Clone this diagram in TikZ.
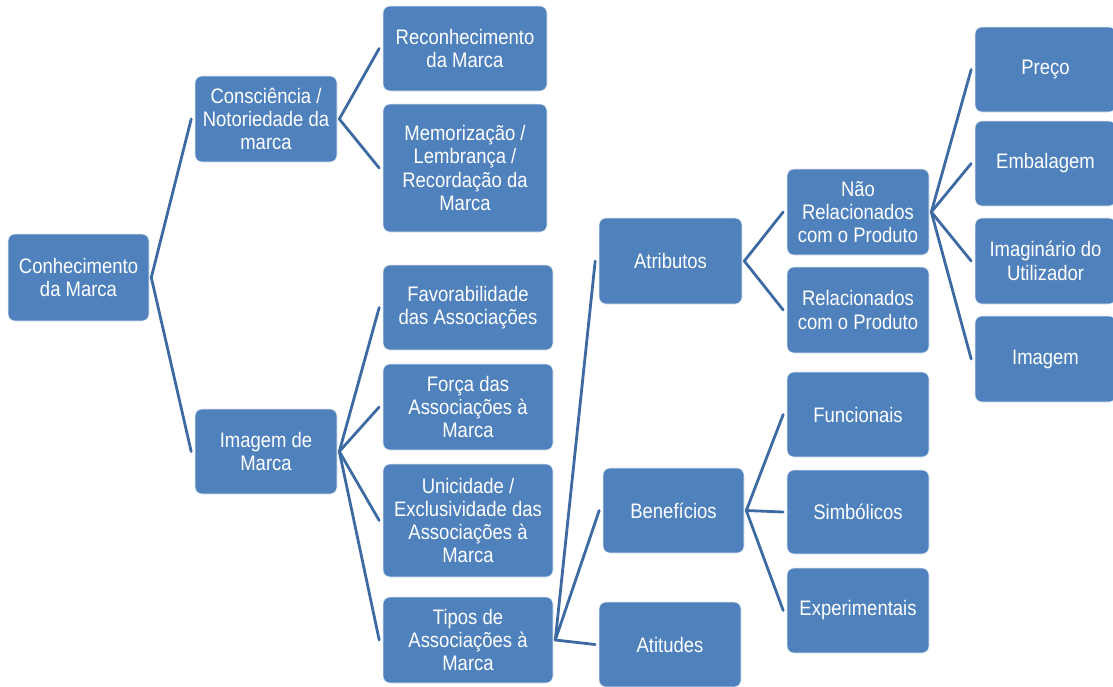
\documentclass[tikz,border=0pt]{standalone}
\usepackage{fontspec}
\setmainfont{Liberation Sans}[FakeStretch=0.88]
\definecolor{boxblue}{RGB}{79,129,189}
\definecolor{linkblue}{RGB}{62,106,163}
\begin{document}
\begin{tikzpicture}[x=1pt,y=-1pt,
  box/.style={rectangle, rounded corners=7pt, fill=boxblue, draw=white!85!boxblue, line width=0.6pt,
    text=white, align=center, inner sep=0pt, font=\fontsize{21}{23.3}\selectfont},
  link/.style={draw=linkblue, line width=2.8pt, line cap=round}]
\useasboundingbox (0,0) rectangle (1113,686);
% level 0
\node[box, minimum width=141pt, minimum height=87pt] (conh) at (78.5,277.5) {Conhecimento\\da Marca};
% level 1
\node[box, minimum width=142pt, minimum height=86pt] (consc) at (266,119) {Consciência /\\Notoriedade da\\marca};
\node[box, minimum width=142pt, minimum height=85pt] (imgm) at (266,451.5) {Imagem de\\Marca};
% level 2
\node[box, minimum width=164pt, minimum height=85pt] (recon) at (465,48.5) {Reconhecimento\\da Marca};
\node[box, minimum width=164pt, minimum height=128pt] (memo) at (465,168) {Memorização /\\Lembrança /\\Recordação da\\Marca};
\node[box, minimum width=170pt, minimum height=85pt] (favor) at (468,307.5) {Favorabilidade\\das Associações};
\node[box, minimum width=170pt, minimum height=86pt] (forca) at (468,407) {Força das\\Associações à\\Marca};
\node[box, minimum width=170pt, minimum height=113pt] (unic) at (468,520.5) {Unicidade /\\Exclusividade das\\Associações à\\Marca};
\node[box, minimum width=170pt, minimum height=86pt] (tipos) at (468,640) {Tipos de\\Associações à\\Marca};
% level 3
\node[box, minimum width=143pt, minimum height=86pt] (atrib) at (670.5,261) {Atributos};
\node[box, minimum width=141pt, minimum height=85pt] (benef) at (673.5,510.5) {Benefícios};
\node[box, minimum width=142pt, minimum height=85pt] (atit) at (670,644.5) {Atitudes};
% level 4
\node[box, minimum width=142pt, minimum height=86pt] (naorel) at (858,212) {Não\\Relacionados\\com o Produto};
\node[box, minimum width=142pt, minimum height=86pt] (rel) at (858,310) {Relacionados\\com o Produto};
\node[box, minimum width=142pt, minimum height=85pt] (func) at (858,414.5) {Funcionais};
\node[box, minimum width=142pt, minimum height=84pt] (simb) at (858,512) {Simbólicos};
\node[box, minimum width=142pt, minimum height=85pt] (exper) at (858,610.5) {Experimentais};
% level 5
\node[box, minimum width=141pt, minimum height=85pt] (preco) at (1045.5,69.5) {Preço};
\node[box, minimum width=141pt, minimum height=85pt] (embal) at (1045.5,163.5) {Embalagem};
\node[box, minimum width=141pt, minimum height=86pt] (imagin) at (1045.5,261) {Imaginário do\\Utilizador};
\node[box, minimum width=141pt, minimum height=86pt] (imagem) at (1045.5,359) {Imagem};
% connectors
\foreach \p/\c in {conh/consc, conh/imgm,
  consc/recon, consc/memo,
  imgm/favor, imgm/forca, imgm/unic, imgm/tipos,
  tipos/atrib, tipos/benef, tipos/atit,
  atrib/naorel, atrib/rel,
  benef/func, benef/simb, benef/exper,
  naorel/preco, naorel/embal, naorel/imagin, naorel/imagem}
  \draw[link] ([xshift=2pt]\p.east) -- ([xshift=-3.5pt]\c.west);
\end{tikzpicture}
\end{document}
